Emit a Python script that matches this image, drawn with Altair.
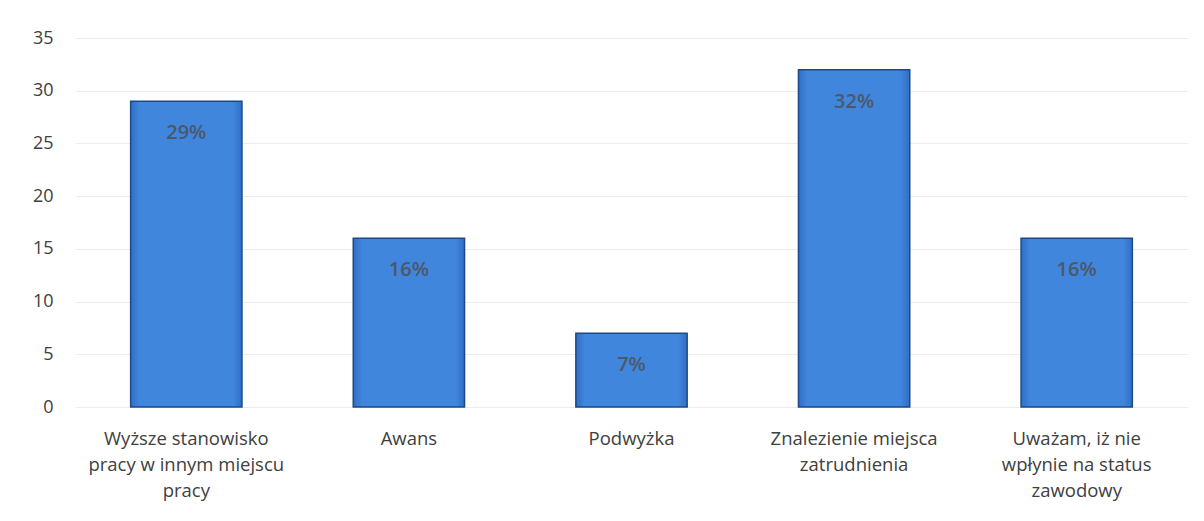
import altair as alt
import pandas as pd

categories = [
    "Wyższe stanowisko|pracy w innym miejscu|pracy",
    "Awans",
    "Podwyżka",
    "Znalezienie miejsca|zatrudnienia",
    "Uważam, iż nie|wpłynie na status|zawodowy",
]
values = [29, 16, 7, 32, 16]
labels = ["29%", "16%", "7%", "32%", "16%"]

df = pd.DataFrame({"cat": categories, "val": values, "lab": labels})

FONT = "Open Sans"

x = alt.X(
    "cat:N",
    sort=categories,
    title=None,
    scale=alt.Scale(paddingInner=0.5, paddingOuter=0.25),
    axis=alt.Axis(
        labelAngle=0,
        labelExpr="split(datum.label, '|')",
        labelFontSize=18.5,
        labelColor="#404040",
        labelFont=FONT,
        labelLineHeight=26,
        labelPadding=31,
        labelBaseline="middle",
        labelLimit=400,
        domain=False,
        ticks=False,
        grid=False,
    ),
)
y = alt.Y(
    "val:Q",
    title=None,
    scale=alt.Scale(domain=[0, 35], nice=False),
    axis=alt.Axis(
        values=[0, 5, 10, 15, 20, 25, 30, 35],
        labelFontSize=18,
        labelColor="#404040",
        labelFont=FONT,
        labelPadding=22,
        domain=False,
        ticks=False,
        gridColor="#ececec",
        gridWidth=1,
    ),
)

bars = alt.Chart(df).mark_bar(
    color=alt.Gradient(
        gradient="linear",
        x1=0, x2=1, y1=0, y2=0,
        stops=[
            alt.GradientStop(offset=0, color="#2f6fc4"),
            alt.GradientStop(offset=0.08, color="#3f86dc"),
            alt.GradientStop(offset=0.92, color="#3f86dc"),
            alt.GradientStop(offset=1, color="#2f6fc4"),
        ],
    ),
    stroke="#1d4a86",
    strokeWidth=1.5,
).encode(x=x, y=y)

text = alt.Chart(df).mark_text(
    dy=32,
    fontSize=20,
    fontWeight=600,
    font=FONT,
    color="#4d5868",
    baseline="middle",
).encode(x=x, y=y, text="lab:N")

chart = (
    (bars + text)
    .properties(
        width=1113,
        height=369,
        padding={"left": 67, "top": 30, "right": 8, "bottom": 100},
        autosize=alt.AutoSizeParams(type="none"),
        background="white",
    )
    .configure_view(strokeWidth=0)
)

chart.save("out.html", embed_options={"renderer": "svg", "actions": False})
